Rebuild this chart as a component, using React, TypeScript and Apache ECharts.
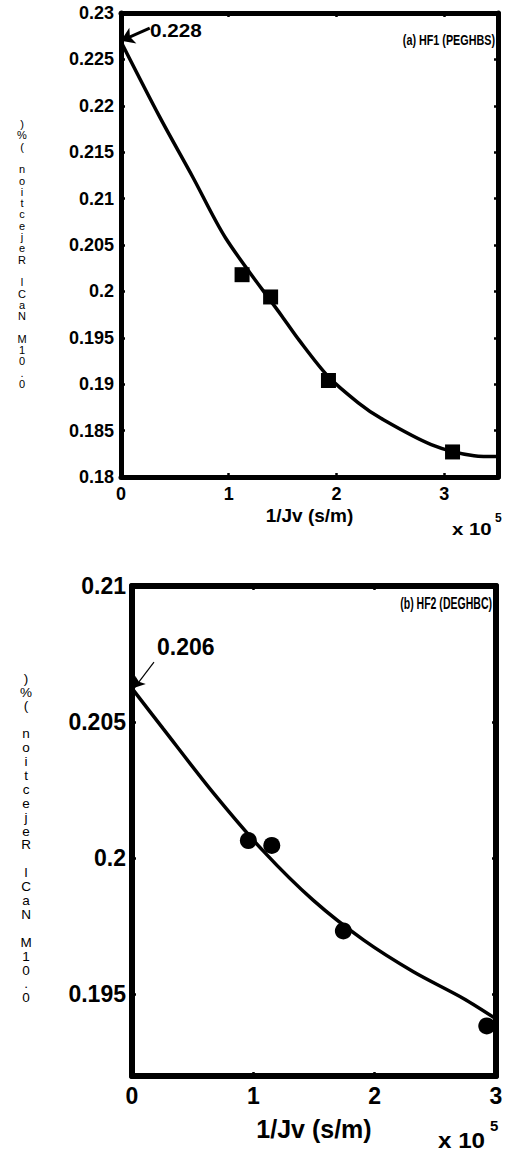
import React, { useEffect, useRef } from "react";
import * as echarts from "echarts";

// ---- Data (x in units of 1e5 s/m) ----
const topCurveX = [0, 0.359, 0.667, 0.974, 1.496, 1.65, 1.926, 2.203, 2.417, 2.88, 3.278, 3.5];
const topCurveY = [0.2269, 0.2188, 0.2123, 0.2057, 0.1973, 0.1948, 0.1908, 0.188, 0.1863, 0.1835, 0.1823, 0.1822];
const topPointsX = [1.124, 1.389, 1.926, 3.078];
const topPointsY = [0.2018, 0.1994, 0.1904, 0.1827];

const botCurveX = [0, 0.258, 0.67, 1.083, 1.495, 1.907, 2.319, 2.731, 3.0];
const botCurveY = [0.20624, 0.20475, 0.2024, 0.20026, 0.19845, 0.197, 0.19583, 0.19485, 0.1941];
const botPointsX = [0.959, 1.152, 1.742, 2.924];
const botPointsY = [0.20065, 0.20047, 0.19733, 0.19384];

const topXTicks = [0, 1, 2, 3];
const topYTicks = [0.18, 0.185, 0.19, 0.195, 0.2, 0.205, 0.21, 0.215, 0.22, 0.225, 0.23];
const botXTicks = [0, 1, 2, 3];
const botYTicks = [0.195, 0.2, 0.205, 0.21];

const yLabel = "0.01M NaCl Rejection (%)";
const xLabel = "1/Jv (s/m)";
const titleA = "(a) HF1 (PEGHBS)";
const titleB = "(b) HF2 (DEGHBC)";
const annA = "0.228";
const annB = "0.206";

const FONT = "'Liberation Sans', Arial, sans-serif";

// the reference draws the y label as characters stacked bottom-to-top
const stacked = (label: string) => label.split("").reverse().join("\n");

const zip = (xs: number[], ys: number[]) => xs.map((x, i) => [x, ys[i]]);
const fmt = (v: number) => String(parseFloat(v.toFixed(3)));

function axisPair(
  gridIndex: number,
  min: number,
  max: number,
  ticks: number[],
  lw: number,
  fontSize: number,
  margin: number,
  isX: boolean
) {
  const base = {
    type: "value",
    gridIndex,
    min,
    max,
    splitLine: { show: false },
    axisLine: { show: true, onZero: false, lineStyle: { color: "#000", width: lw } },
    axisTick: { show: true, inside: true, length: 4, customValues: ticks, lineStyle: { color: "#000", width: 2.5 } },
  };
  return [
    {
      ...base,
      position: isX ? "bottom" : "left",
      axisLabel: {
        show: true,
        customValues: ticks,
        formatter: (v: number) => fmt(v),
        fontFamily: FONT,
        fontWeight: "bold",
        fontSize,
        color: "#000",
        margin,
      },
    },
    {
      ...base,
      position: isX ? "top" : "right",
      axisLabel: { show: false },
    },
  ];
}

export default function App() {
  const ref = useRef<HTMLDivElement>(null);
  useEffect(() => {
    if (!ref.current) return;
    const chart = echarts.init(ref.current, null, { renderer: "svg" });

    const xA = axisPair(0, 0, 3.5, topXTicks, 5, 18, 8, true);
    const yA = axisPair(0, 0.18, 0.23, topYTicks, 5, 18, 7, false);
    const xB = axisPair(1, 0, 3, botXTicks, 6, 23, 8, true);
    const yB = axisPair(1, 0.192, 0.21, botYTicks, 6, 23, 6, false);

    Object.assign(xA[0] as any, {
      name: xLabel,
      nameLocation: "middle",
      nameGap: 29,
      nameTextStyle: { fontFamily: FONT, fontWeight: "bold", fontSize: 19, color: "#000" },
    });
    Object.assign(xB[0] as any, {
      name: xLabel,
      nameLocation: "middle",
      nameGap: 40,
      nameTextStyle: { fontFamily: FONT, fontWeight: "bold", fontSize: 25, color: "#000" },
    });

    const option: any = {
      animation: false,
      backgroundColor: "#fff",
      grid: [
        { left: 121, right: 9, top: 13, bottom: 674 },
        { left: 132, right: 11, top: 586, bottom: 75 },
      ],
      xAxis: [...xA, ...xB],
      yAxis: [...yA, ...yB],
      series: [
        {
          type: "line",
          xAxisIndex: 0,
          yAxisIndex: 0,
          data: zip(topCurveX, topCurveY),
          smooth: 0.3,
          showSymbol: false,
          clip: false,
          lineStyle: { color: "#000", width: 3.5 },
          markLine: {
            silent: true,
            symbol: ["none", "arrow"],
            symbolSize: 13,
            label: { show: false },
            lineStyle: { color: "#000", width: 3, type: "solid" },
            data: [[{ coord: [0.267, 0.22838] }, { coord: [0, 0.227] }]],
          },
        },
        {
          type: "scatter",
          xAxisIndex: 0,
          yAxisIndex: 0,
          data: zip(topPointsX, topPointsY),
          symbol: "rect",
          symbolSize: 15,
          itemStyle: { color: "#000", opacity: 1 },
        },
        {
          type: "line",
          xAxisIndex: 2,
          yAxisIndex: 2,
          data: zip(botCurveX, botCurveY),
          smooth: 0.3,
          showSymbol: false,
          clip: false,
          lineStyle: { color: "#000", width: 3.5 },
          markLine: {
            silent: true,
            symbol: ["none", "arrow"],
            symbolSize: 10,
            label: { show: false },
            lineStyle: { color: "#000", width: 1.2, type: "solid" },
            data: [[{ coord: [0.181, 0.2072] }, { coord: [0.02, 0.20626] }]],
          },
        },
        {
          type: "scatter",
          xAxisIndex: 2,
          yAxisIndex: 2,
          data: zip(botPointsX, botPointsY),
          symbol: "circle",
          symbolSize: 17,
          itemStyle: { color: "#000", opacity: 1 },
        },
      ],
      graphic: [
        {
          type: "text",
          x: 22,
          y: 254,
          style: {
            text: stacked(yLabel),
            align: "center",
            verticalAlign: "middle",
            fill: "#000",
            font: `11px ${FONT}`,
            lineHeight: 11.3,
          },
        },
        {
          type: "text",
          x: 26,
          y: 838,
          style: {
            text: stacked(yLabel),
            align: "center",
            verticalAlign: "middle",
            fill: "#000",
            font: `13.5px ${FONT}`,
            lineHeight: 13.9,
          },
        },
        {
          type: "text",
          x: 495,
          y: 41,
          scaleX: 0.77,
          style: { text: titleA, align: "right", verticalAlign: "middle", fill: "#000", font: `bold 14px ${FONT}` },
        },
        {
          type: "text",
          x: 492,
          y: 603,
          scaleX: 0.62,
          style: { text: titleB, align: "right", verticalAlign: "middle", fill: "#000", font: `bold 17px ${FONT}` },
        },
        {
          type: "text",
          x: 150,
          y: 31,
          scaleX: 1.15,
          style: { text: annA, align: "left", verticalAlign: "middle", fill: "#000", font: `bold 18px ${FONT}` },
        },
        {
          type: "text",
          x: 157,
          y: 647,
          style: { text: annB, align: "left", verticalAlign: "middle", fill: "#000", font: `bold 23px ${FONT}` },
        },
        {
          type: "text",
          x: 452,
          y: 529,
          scaleX: 1.2,
          style: { text: "x 10", align: "left", verticalAlign: "middle", fill: "#000", font: `bold 17px ${FONT}` },
        },
        {
          type: "text",
          x: 495,
          y: 518,
          style: { text: "5", align: "left", verticalAlign: "middle", fill: "#000", font: `bold 12px ${FONT}` },
        },
        {
          type: "text",
          x: 438,
          y: 1140,
          scaleX: 1.1,
          style: { text: "x 10", align: "left", verticalAlign: "middle", fill: "#000", font: `bold 22px ${FONT}` },
        },
        {
          type: "text",
          x: 490,
          y: 1125,
          style: { text: "5", align: "left", verticalAlign: "middle", fill: "#000", font: `bold 15px ${FONT}` },
        },
      ],
    };
    chart.setOption(option);
    return () => chart.dispose();
  }, []);
  return (
    <div
      ref={ref}
      style={{ position: "absolute", left: 0, top: 0, width: 507, height: 1151, background: "#fff" }}
    />
  );
}
